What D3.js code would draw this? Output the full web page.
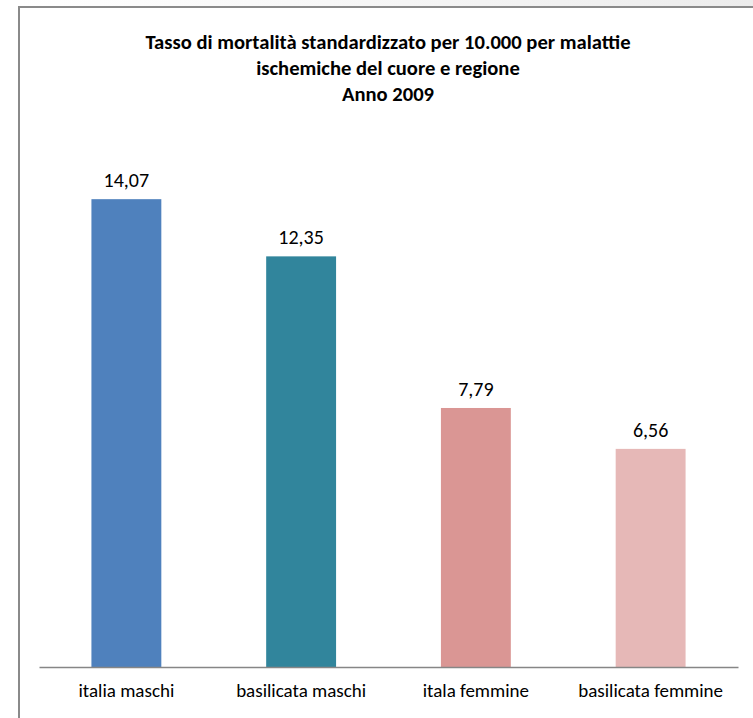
<!DOCTYPE html>
<html>
<head>
<meta charset="utf-8">
<script src="https://cdn.jsdelivr.net/npm/d3@7"></script>
<style>
  body { margin: 0; background: #fff; }
  svg text { font-family: Carlito, "Liberation Sans Narrow", "Open Sans", sans-serif; fill: #000; }
</style>
</head>
<body>
<svg id="chart" width="753" height="718"></svg>
<script>
// data
var categories = ["italia maschi", "basilicata maschi", "itala femmine", "basilicata femmine"];
var values = [14.07, 12.35, 7.79, 6.56];
var barColors = ["#4f81bd", "#31859c", "#da9694", "#e6b8b7"];
var titleLines = ["Tasso di mortalità standardizzato per 10.000 per malattie",
                  "ischemiche del cuore e regione",
                  "Anno 2009"];

var svg = d3.select("#chart");

// light shadow strip above the frame
var grad = svg.append("defs").append("linearGradient")
    .attr("id", "topfade").attr("x1", "0%").attr("x2", "100%");
grad.append("stop").attr("offset", "0%").attr("stop-color", "#fff");
grad.append("stop").attr("offset", "100%").attr("stop-color", "#ececec");
svg.append("rect").attr("x", 19).attr("y", 0).attr("width", 734).attr("height", 6)
    .attr("fill", "url(#topfade)");

// frame (left and top edges)
svg.append("path")
    .attr("d", "M19,718V7H753")
    .attr("fill", "none")
    .attr("stroke", "#8a8a8a")
    .attr("stroke-width", 2);

var x = d3.scaleBand()
    .domain(categories)
    .range([39, 738])
    .paddingInner(0.6)
    .paddingOuter(0.3);

var y = d3.scaleLinear()
    .domain([0, 16])
    .range([667, 135]);

// title
svg.append("text")
    .attr("text-anchor", "middle")
    .attr("font-weight", "bold")
    .attr("font-size", 20.6)
    .selectAll("tspan")
    .data(titleLines)
    .join("tspan")
    .attr("x", 388)
    .attr("y", function(d, i) { return 49 + i * 26; })
    .text(function(d) { return d; });

// bars
svg.append("g").selectAll("rect")
    .data(values)
    .join("rect")
    .attr("x", function(d, i) { return x(categories[i]); })
    .attr("width", x.bandwidth())
    .attr("y", function(d) { return y(d); })
    .attr("height", function(d) { return y(0) - y(d); })
    .attr("fill", function(d, i) { return barColors[i]; });

// value labels
svg.append("g").selectAll("text")
    .data(values)
    .join("text")
    .attr("x", function(d, i) { return x(categories[i]) + x.bandwidth() / 2; })
    .attr("y", function(d) { return y(d) - 12; })
    .attr("text-anchor", "middle")
    .attr("font-size", 20)
    .text(function(d) { return d3.format(".2f")(d).replace(".", ","); });

// x axis
var xAxis = svg.append("g")
    .attr("transform", "translate(0," + y(0) + ")")
    .call(d3.axisBottom(x).tickSize(0).tickPadding(17));
xAxis.select(".domain").attr("stroke", "#868686").attr("stroke-width", 1.5);
xAxis.selectAll("text").attr("font-size", 19).attr("font-family", null);
</script>
</body>
</html>
